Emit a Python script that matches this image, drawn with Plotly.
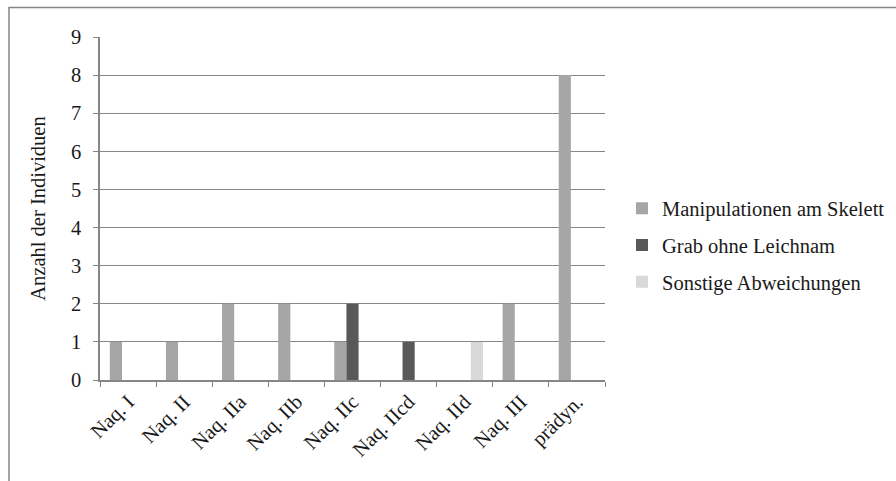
import plotly.graph_objects as go

# Bestattungsabweichungen je Zeitstufe
categories = ["Naq. I", "Naq. II", "Naq. IIa", "Naq. IIb", "Naq. IIc",
              "Naq. IIcd", "Naq. IId", "Naq. III", "prädyn."]
manipulationen = [1, 1, 2, 2, 1, 0, 0, 2, 8]
grab_ohne_leichnam = [0, 0, 0, 0, 2, 1, 0, 0, 0]
sonstige = [0, 0, 0, 0, 0, 0, 1, 0, 0]

series = [
    ("Manipulationen am Skelett", manipulationen, "#a6a6a6"),
    ("Grab ohne Leichnam", grab_ohne_leichnam, "#595959"),
    ("Sonstige Abweichungen", sonstige, "#d9d9d9"),
]

FONT = "Liberation Serif"
FS = 20.5
GRID = "#868686"
TXT = "#1a1a1a"

W, H = 896, 481
L, R, T, B = 100, 605, 37, 380  # plot area in pixels

fig = go.Figure()
for name, vals, col in series:
    fig.add_trace(go.Bar(
        x=categories, y=vals, name=name, legendgroup=name,
        marker=dict(color=col, line=dict(width=0)),
    ))

def px_x(p):
    return (p - L) / (R - L)

def px_y(p):
    return (B - p) / (B - T)

fig.update_layout(
    width=W, height=H,
    margin=dict(l=L, r=W - R, t=T, b=H - B, pad=0, autoexpand=False),
    paper_bgcolor="white", plot_bgcolor="white",
    barmode="group", bargap=0.35, bargroupgap=0,
    font=dict(family=FONT, size=FS, color=TXT),
    showlegend=True,
    legend=dict(
        x=px_x(622), xanchor="left",
        y=px_y(245), yanchor="middle",
        traceorder="grouped", tracegroupgap=7,
        font=dict(family=FONT, size=FS, color=TXT),
        bgcolor="rgba(0,0,0,0)",
    ),
    xaxis=dict(
        type="category", tickangle=-45, tickson="boundaries",
        ticks="outside", ticklen=5, tickcolor=GRID, tickwidth=1.2,
        showline=True, linecolor=GRID, linewidth=1.5,
        showgrid=False, zeroline=False, automargin=False,
        tickfont=dict(family=FONT, size=FS, color=TXT),
    ),
    yaxis=dict(
        range=[0, 9], dtick=1, tick0=0,
        ticks="outside", ticklen=5, tickcolor=GRID, tickwidth=1.2,
        showline=True, linecolor=GRID, linewidth=1.5,
        showgrid=True, gridcolor=GRID, gridwidth=1.3,
        zeroline=False, ticklabelstandoff=8, automargin=False,
        tickfont=dict(family=FONT, size=FS, color=TXT),
        title=dict(text="Anzahl der Individuen", standoff=20,
                   font=dict(family=FONT, size=FS, color=TXT)),
    ),
    shapes=[dict(
        type="rect", xref="paper", yref="paper",
        x0=px_x(9), x1=px_x(W + 5), y0=px_y(H + 5), y1=px_y(7.5),
        line=dict(color=GRID, width=1.5), fillcolor="rgba(0,0,0,0)",
        layer="below",
    )],
)

fig.write_html("out.html")
